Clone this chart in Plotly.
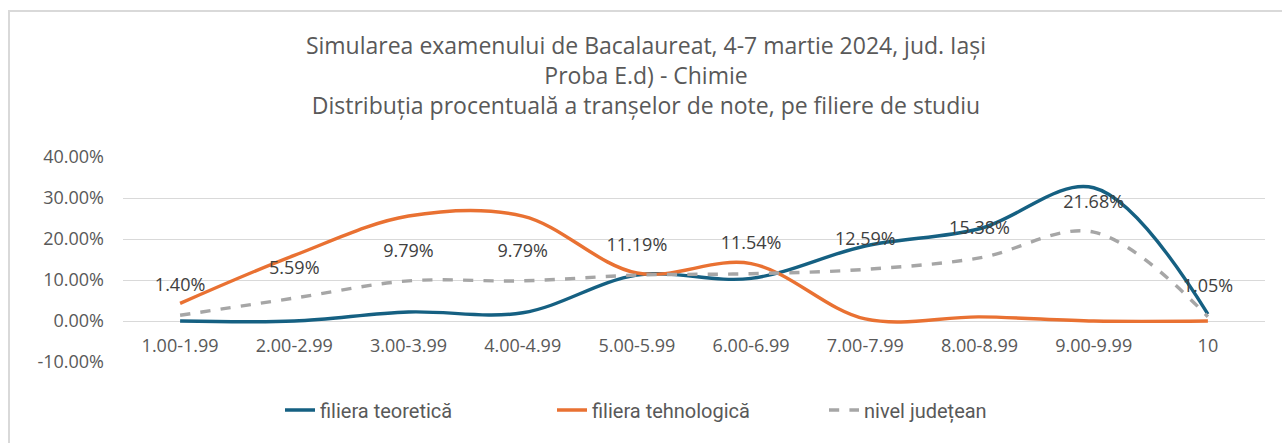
import plotly.graph_objects as go

categories = ["1.00-1.99", "2.00-2.99", "3.00-3.99", "4.00-4.99", "5.00-5.99",
              "6.00-6.99", "7.00-7.99", "8.00-8.99", "9.00-9.99", "10"]
teoretica = [0.0, 0.0, 2.2, 2.0, 11.2, 10.4, 18.3, 22.5, 32.5, 1.7]
tehnologica = [4.3, 16.0, 25.6, 25.6, 11.7, 14.0, 0.5, 1.0, 0.0, 0.0]
judetean = [1.40, 5.59, 9.79, 9.79, 11.19, 11.54, 12.59, 15.38, 21.68, 1.05]
y_ticks = [-10, 0, 10, 20, 30, 40]

title_lines = ["Simularea examenului de Bacalaureat, 4-7 martie 2024, jud. Iași",
               "Proba E.d) - Chimie",
               "Distribuția procentuală a tranșelor de note, pe filiere de studiu"]

FONT = "Open Sans"
LFONT = "Roboto"
GREY = "#595959"

fig = go.Figure()
fig.add_trace(go.Scatter(x=categories, y=teoretica, name="filiera teoretică", mode="lines",
                         line=dict(color="#156082", width=3.4, shape="spline", smoothing=1.0)))
fig.add_trace(go.Scatter(x=categories, y=tehnologica, name="filiera tehnologică", mode="lines",
                         line=dict(color="#E97132", width=3.4, shape="spline", smoothing=1.0)))
fig.add_trace(go.Scatter(x=categories, y=judetean, name="nivel județean", mode="lines",
                         line=dict(color="#A6A6A6", width=3.4, dash="dash", shape="spline", smoothing=1.0)))
fig.add_trace(go.Scatter(x=categories, y=judetean, mode="markers+text", showlegend=False,
                         hoverinfo="skip",
                         text=[f"{v:.2f}%" for v in judetean], textposition="top center",
                         textfont=dict(family=FONT, size=18, color="#404040"),
                         marker=dict(size=30, color="rgba(0,0,0,0)")))

L, R, T, B = 123, 17, 157, 81
W, H = 1282, 443
pw, ph = W - L - R, H - T - B

def px_x(p):
    return (p - L) / pw

def px_y(p):
    return (H - B - p) / ph

fig.update_layout(
    width=W, height=H,
    margin=dict(l=L, r=R, t=T, b=B, autoexpand=False),
    paper_bgcolor="white", plot_bgcolor="white",
    font=dict(family=FONT, color=GREY),
    title=dict(text="<br>".join(title_lines), x=646 / W, xref="container", xanchor="center",
               y=1 - 54 / H, yref="container", yanchor="top",
               font=dict(family=FONT, size=23, color=GREY)),
    showlegend=True,
    legend=dict(orientation="h", x=px_x(688), xanchor="center", y=px_y(410), yanchor="middle",
                font=dict(family=LFONT, size=20, color=GREY), entrywidth=227,
                entrywidthmode="pixels", tracegroupgap=0),
    xaxis=dict(type="category", range=[-0.5, 9.5], showgrid=False, zeroline=False,
               showline=False, ticks="", anchor="free", position=px_y(321), automargin=False,
               tickfont=dict(family=FONT, size=18, color=GREY), ticklabelstandoff=12,
               fixedrange=True),
    yaxis=dict(range=[-10, 40], tickvals=y_ticks, ticktext=[f"{v:.2f}%" for v in y_ticks],
               showgrid=True, gridcolor="#D9D9D9", gridwidth=1.3, zeroline=False,
               showline=False, ticks="", tickfont=dict(family=FONT, size=18, color=GREY),
               ticklabelstandoff=18, automargin=False, fixedrange=True),
    shapes=[dict(type="rect", xref="paper", yref="paper",
                 x0=px_x(9), x1=px_x(1295), y0=px_y(460), y1=px_y(11),
                 line=dict(color="#D9D9D9", width=2), layer="below")],
)

fig.write_html("out.html", config={"displayModeBar": False},
               post_script="document.body.style.margin='0';document.body.style.padding='0';")
